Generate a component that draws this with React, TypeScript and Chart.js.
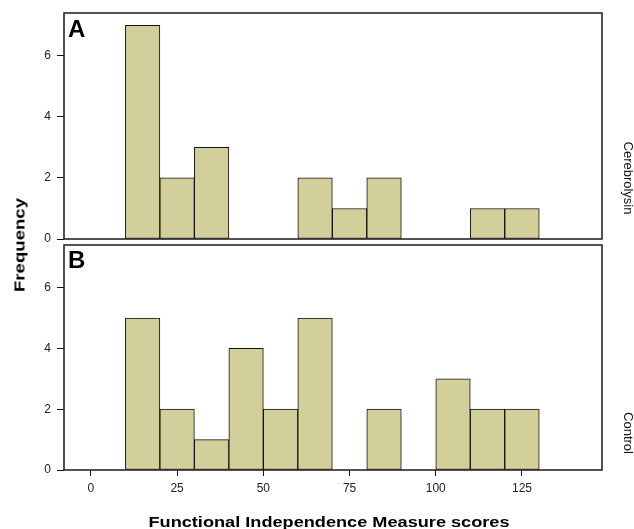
import React, { useEffect, useRef } from "react";
import { Chart, registerables } from "chart.js";

Chart.register(...registerables);

const binCentersA = [15, 25, 35, 65, 75, 85, 115, 125];
const countsA = [7, 2, 3, 2, 1, 2, 1, 1];
const binCentersB = [15, 25, 35, 45, 55, 65, 85, 105, 115, 125];
const countsB = [5, 2, 1, 4, 2, 5, 2, 3, 2, 2];
const xTickValues = [0, 25, 50, 75, 100, 125];
const yTickValues = [0, 2, 4, 6];
const panelLabels = ["A", "B"];
const groupNames = ["Cerebrolysin", "Control"];
const xTitle = "Functional Independence Measure scores";
const yTitle = "Frequency";

const X_MIN = -7.8;
const X_MAX = 148.2;
const Y_MAX = 7.4;
const FONT = "'Liberation Sans', Arial, Helvetica, sans-serif";
const BAR_FILL = "rgb(211,207,154)";

const framePlugin = {
  id: "frame",
  afterDatasetsDraw(chart: any) {
    const { ctx, chartArea: a } = chart;
    ctx.save();
    ctx.strokeStyle = "#1a1a1a";
    ctx.lineWidth = 1.5;
    ctx.strokeRect(a.left, a.top, a.right - a.left, a.bottom - a.top);
    ctx.restore();
  },
};

function makeConfig(centers: number[], counts: number[], showX: boolean, padTop: number, padBottom: number): any {
  return {
    type: "bar",
    data: {
      datasets: [
        {
          data: centers.map((c, i) => ({ x: c, y: counts[i] })),
          backgroundColor: BAR_FILL,
          borderColor: "#111",
          borderWidth: 1,
          borderSkipped: false,
          barPercentage: 1,
          categoryPercentage: 1,
        },
      ],
    },
    options: {
      animation: false,
      responsive: false,
      events: [],
      layout: { padding: { top: padTop, bottom: padBottom, left: 0, right: 32 } },
      plugins: { legend: { display: false }, tooltip: { enabled: false }, title: { display: false } },
      scales: {
        x: {
          type: "linear",
          display: showX,
          min: X_MIN,
          max: X_MAX,
          offset: false,
          grid: { offset: false, drawOnChartArea: false, drawTicks: true, tickLength: 6, color: "#111", lineWidth: 1 },
          border: { display: false },
          afterBuildTicks: (scale: any) => {
            scale.ticks = xTickValues.map((v) => ({ value: v }));
          },
          ticks: {
            includeBounds: false,
            autoSkip: false,
            maxRotation: 0,
            padding: 5,
            color: "#222",
            font: { family: FONT, size: 12 },
          },
          afterFit: (scale: any) => {
            if (showX) {
              scale.height = 59;
            } else {
              scale.height = 0;
            }
            scale.paddingLeft = 0;
            scale.paddingRight = 0;
          },
        },
        y: {
          type: "linear",
          min: 0,
          max: Y_MAX,
          grid: { drawOnChartArea: false, drawTicks: true, tickLength: 7, color: "#111", lineWidth: 1 },
          border: { display: false },
          afterBuildTicks: (scale: any) => {
            scale.ticks = yTickValues.map((v) => ({ value: v }));
          },
          ticks: {
            includeBounds: false,
            padding: 6,
            color: "#222",
            font: { family: FONT, size: 12 },
          },
          afterFit: (scale: any) => {
            scale.width = 64;
            scale.paddingTop = 0;
            scale.paddingBottom = 0;
          },
        },
      },
    },
    plugins: [framePlugin],
  };
}

export default function App() {
  const refA = useRef<HTMLCanvasElement>(null);
  const refB = useRef<HTMLCanvasElement>(null);

  useEffect(() => {
    const cA = new Chart(refA.current as HTMLCanvasElement, makeConfig(binCentersA, countsA, false, 13, 3));
    const cB = new Chart(refB.current as HTMLCanvasElement, makeConfig(binCentersB, countsB, true, 3, 0));
    return () => {
      cA.destroy();
      cB.destroy();
    };
  }, []);

  const abs: React.CSSProperties = { position: "absolute", whiteSpace: "nowrap", fontFamily: FONT, color: "#111" };

  return (
    <div style={{ position: "absolute", left: 0, top: 0, width: 634, height: 529, background: "#fff", overflow: "hidden" }}>
      <canvas ref={refA} width={634} height={242} style={{ position: "absolute", left: 0, top: 0, display: "block" }} />
      <canvas ref={refB} width={634} height={287} style={{ position: "absolute", left: 0, top: 242, display: "block" }} />

      <div style={{ ...abs, left: 68, top: 16.7, fontSize: 24, lineHeight: "24px", fontWeight: "bold", color: "#000" }}>{panelLabels[0]}</div>
      <div style={{ ...abs, left: 68, top: 247.7, fontSize: 24, lineHeight: "24px", fontWeight: "bold", color: "#000" }}>{panelLabels[1]}</div>

      <div
        style={{
          ...abs,
          left: 627.5,
          top: 178,
          fontSize: 13,
          lineHeight: "13px",
          transform: "translate(-50%, -50%) rotate(90deg)",
        }}
      >
        {groupNames[0]}
      </div>
      <div
        style={{
          ...abs,
          left: 627.5,
          top: 433,
          fontSize: 13,
          lineHeight: "13px",
          transform: "translate(-50%, -50%) rotate(90deg)",
        }}
      >
        {groupNames[1]}
      </div>

      <div
        style={{
          ...abs,
          left: 18.5,
          top: 245,
          fontSize: 15,
          lineHeight: "15px",
          fontWeight: "bold",
          color: "#000",
          transform: "translate(-50%, -50%) rotate(-90deg) scaleX(1.24)",
        }}
      >
        {yTitle}
      </div>

      <div
        style={{
          ...abs,
          left: 329,
          top: 514,
          fontSize: 15,
          lineHeight: "15px",
          fontWeight: "bold",
          color: "#000",
          transform: "translateX(-50%) scaleX(1.21)",
        }}
      >
        {xTitle}
      </div>
    </div>
  );
}
